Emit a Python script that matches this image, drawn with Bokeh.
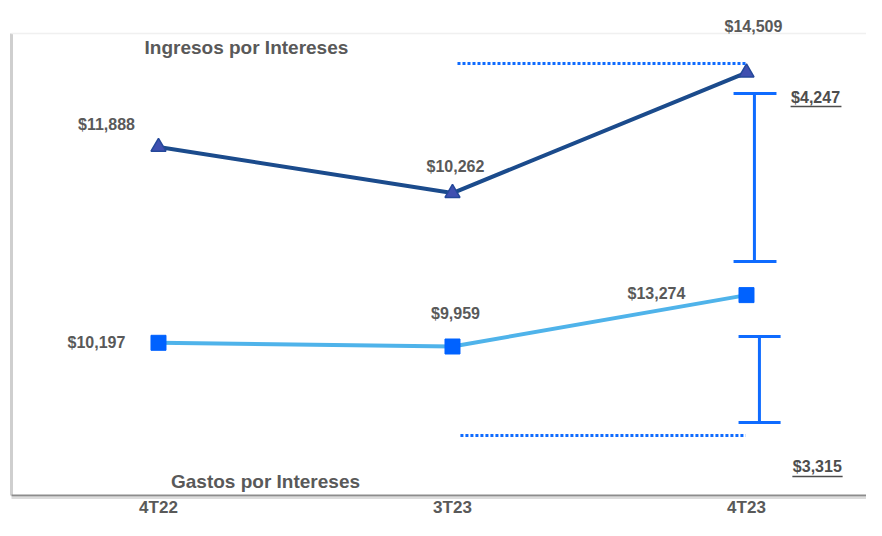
from bokeh.plotting import figure
from bokeh.models import Range1d, ColumnDataSource
from bokeh.core.properties import value
from bokeh.embed import file_html
from bokeh.resources import INLINE

# ---- data ----
periods = ["4T22", "3T23", "4T23"]
ingresos = [11888, 10262, 14509]
gastos = [10197, 9959, 13274]

xs = list(range(len(periods)))
diff_ing = ingresos[2] - ingresos[1]   # 4,247
diff_gas = gastos[2] - gastos[1]       # 3,315

FONT = "Liberation Sans"
GRAY = "#595959"
DARK = "#1B4B8C"
LIGHT = "#4FB3EA"
BRIGHT = "#0F6BFF"

p = figure(width=866, height=520, output_backend="svg", toolbar_location=None,
           x_range=Range1d(-0.5374, 2.4082), y_range=Range1d(-1267, 32282),
           x_axis_location=None, y_axis_location=None, min_border=0)
p.extra_y_ranges = {"ing": Range1d(-1280, 17049)}
p.grid.visible = False
p.outline_line_color = None

# ---- chart frame (left, top, bottom borders) ----
p.segment(x0=[-0.5], y0=[30153], x1=[-0.5], y1=[346], line_color="#cfcfcf", line_width=3)
p.segment(x0=[-0.5], y0=[30153], x1=[2.42], y1=[30153], line_color="#f0f0f0", line_width=1.5)
p.segment(x0=[-0.5], y0=[185], x1=[2.42], y1=[185], line_color="#dcdcdc", line_width=2)
p.segment(x0=[-0.5], y0=[346], x1=[2.42], y1=[346], line_color="#8c8c8c", line_width=2)

# category labels
p.text(x=xs, y=[-428] * len(xs), text=periods,
       text_font=value(FONT), text_font_style="bold", text_font_size="17px",
       text_color=GRAY, text_align="center", text_baseline="middle")

# ---- series ----
src_ing = ColumnDataSource(dict(x=xs, y=ingresos, lab=[f"${v:,}" for v in ingresos],
                                dx=[-52, 3, 7], dy=[-22, -27, -46]))
src_gas = ColumnDataSource(dict(x=xs, y=gastos, lab=[f"${v:,}" for v in gastos],
                                dx=[-62, 3, -90], dy=[0, -33, -2]))

p.line("x", "y", source=src_ing, y_range_name="ing", line_color=DARK, line_width=4)
p.scatter("x", "y", source=src_ing, y_range_name="ing", marker="triangle", size=15,
          fill_color="#4050B0", line_color="#24489A", line_width=1.5)
p.line("x", "y", source=src_gas, line_color=LIGHT, line_width=4)
p.scatter("x", "y", source=src_gas, marker="square", size=15,
          fill_color="#0062FF", line_color="#0062FF")

p.text("x", "y", text="lab", source=src_ing, y_range_name="ing", x_offset="dx", y_offset="dy",
       text_font=value(FONT), text_font_style="bold", text_font_size="16px",
       text_color=GRAY, text_align="center", text_baseline="middle")
p.text("x", "y", text="lab", source=src_gas, x_offset="dx", y_offset="dy",
       text_font=value(FONT), text_font_style="bold", text_font_size="16px",
       text_color=GRAY, text_align="center", text_baseline="middle")

# ---- annotations ----
p.segment(x0=[1.017, 1.027], y0=[28217, 4217], x1=[1.997, 1.997], y1=[28217, 4217],
          line_color=BRIGHT, line_width=3, line_dash="3 2")
# brackets
p.segment(x0=[2.027, 1.956, 1.956], y0=[26282, 26282, 15443],
          x1=[2.027, 2.102, 2.102], y1=[15443, 26282, 15443],
          line_color=BRIGHT, line_width=3)
p.segment(x0=[2.044, 1.973, 1.973], y0=[10604, 10604, 5056],
          x1=[2.044, 2.116, 2.116], y1=[5056, 10604, 5056],
          line_color=BRIGHT, line_width=3)
p.text(x=[2.235, 2.241], y=[26023, 2217], text=[f"${diff_ing:,}", f"${diff_gas:,}"],
       text_font=value(FONT), text_font_style="bold", text_font_size="16px",
       text_color="#4d4d4d", text_align="center", text_baseline="middle")
p.segment(x0=[2.150, 2.156], y0=[25443, 1572], x1=[2.323, 2.327], y1=[25443, 1572],
          line_color="#4d4d4d", line_width=1.5)

p.text(x=[0.299, 0.364], y=[29249, 1249], text=["Ingresos por Intereses", "Gastos por Intereses"],
       text_font=value(FONT), text_font_style="bold", text_font_size="19px",
       text_color=GRAY, text_align="center", text_baseline="middle")

open("out.html", "w").write(file_html(p, INLINE))
